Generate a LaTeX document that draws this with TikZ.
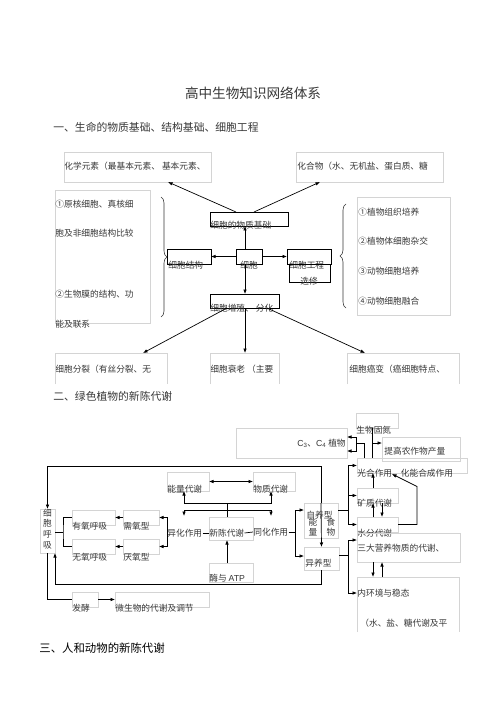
\documentclass[tikz,border=0pt]{standalone}
\usepackage{fontspec}
\newfontfamily\cjk{Noto Sans CJK SC}
\newfontfamily\lat{Liberation Sans}
\usetikzlibrary{arrows.meta}
\usetikzlibrary{calc}
\usetikzlibrary{decorations.pathreplacing}
\definecolor{boxgray}{HTML}{D4D4D4}
\definecolor{inkgray}{HTML}{383838}
\tikzset{>={Latex[length=4.5pt,width=3.6pt]}}
\tikzset{sz/.style 2 args={minimum width=#1pt, minimum height=#2pt}}
\tikzset{gbox/.style={draw=boxgray, line width=0.6pt, inner sep=0pt, outer sep=0pt, anchor=north west}}
\tikzset{kbox/.style={draw=black, line width=0.8pt, inner sep=0pt, outer sep=0pt, anchor=north west}}
\tikzset{txt/.style={inner sep=0pt, anchor=west, text=inkgray, font=\cjk\fontsize{8.7}{10.7}\selectfont}}
\tikzset{head/.style={txt, font=\cjk\fontsize{10.8}{12}\selectfont}}
\tikzset{vtxt/.style={txt, anchor=center, align=center}}

\begin{document}
\begin{tikzpicture}[x=1pt, y=-1pt, line width=0.7pt]
\path[use as bounding box, fill=white] (0,0) rectangle (500,708);

% headings
\node[head, anchor=center, font=\cjk\fontsize{13.6}{14}\selectfont] (title) at (253,93) {高中生物知识网络体系};
\node[head] (h1) at (53,127) {一、生命的物质基础、结构基础、细胞工程};
\node[head] (h2) at (53,396) {二、绿色植物的新陈代谢};
\node[head, text=black, font=\cjk\fontsize{11.4}{12}\selectfont] (h3) at (39,648) {三、人和动物的新陈代谢};

% part one: boxes
\node[gbox, sz={147}{30}] (ys) at (64,152) {};
\node[txt] (ysT) at (64,166) {化学元素（最基本元素、 基本元素、};
\node[gbox, sz={147}{30}] (hhw) at (296,152) {};
\node[txt] (hhwT) at (297,166) {化合物（水、无机盐、蛋白质、糖};
\node[gbox, sz={95}{133}] (jgb) at (55,190) {};
\node[txt] (jg1) at (55,204) {①原核细胞、真核细};
\node[txt] (jg2) at (55,233) {胞及非细胞结构比较};
\node[txt] (jg3) at (55,294) {②生物膜的结构、功};
\node[txt] (jg4) at (55,324) {能及联系};
\node[gbox, sz={93}{118}] (gcb) at (357,197) {};
\node[txt] (gc1) at (358,212) {①植物组织培养};
\node[txt] (gc2) at (358,241) {②植物体细胞杂交};
\node[txt] (gc3) at (358,271) {③动物细胞培养};
\node[txt] (gc4) at (358,301) {④动物细胞融合};

\node[kbox, sz={78}{14}] (wz) at (210,212) {};
\node[txt] (wzT) at (210,225) {细胞的物质基础};
\node[kbox, sz={44}{15}] (jg) at (167,249) {};
\node[txt] (jgT) at (168,265) {细胞结构};
\node[kbox, sz={26}{15}] (xb) at (236,249) {};
\node[txt] (xbT) at (240,265) {细胞};
\node[kbox, sz={44}{15}] (gc) at (287,249) {};
\node[txt] (gcT) at (289,265) {细胞工程};
\node[kbox, sz={41}{18}] (xx) at (289,264) {};
\node[txt] (xxT) at (300,281) {选修};
\node[kbox, sz={69}{14}] (zz) at (210,294) {};
\node[txt] (zzT) at (210,308) {细胞增殖、 分化};

\node[gbox, draw=none, sz={112}{31}] (fl) at (55,353) {};
\node[txt] (flT) at (55,369) {细胞分裂（有丝分裂、无};
\node[gbox, draw=none, sz={69}{31}] (sl) at (210,353) {};
\node[txt] (slT) at (210,369) {细胞衰老 （主要};
\node[gbox, draw=none, sz={112}{31}] (ab) at (347,353) {};
\node[txt] (abT) at (349,369) {细胞癌变（癌细胞特点、};

% braces
\draw[inkgray, line width=0.6pt, decorate, decoration={brace, amplitude=6pt}] (161,197) -- (161,317);
\draw[inkgray, line width=0.6pt, decorate, decoration={brace, amplitude=6pt}] (346,308) -- (346,204);

% part one: arrows
\coordinate (xbn) at ($(xb.north)+(-4,0)$);
\coordinate (xbs) at ($(xb.south)+(-4,0)$);
\draw[->] (xbn) -- (xbn |- wz.south);
\draw[->] (xbs) -- (xbs |- zz.north);
\draw[->] (xb.west) -- (jg.east);
\draw[->] (xb.east) -- (gc.west);
\draw[->] ($(wz.north west)+(26,0)$) -- ($(ys.south west)+(104,0)$);
\draw[->] ($(wz.north west)+(44,0)$) -- ($(hhw.south west)+(24,0)$);
\draw[->] ($(zz.south west)+(17,0)$) -- ($(fl.north west)+(88,0)$);
\draw[->] (xbs |- zz.south) -- (xbs |- sl.north);
\draw[->] ($(zz.south west)+(57,0)$) -- ($(ab.north west)+(18,0)$);

% part two: boxes
\node[gbox, sz={42}{15}] (gd) at (356,413) {};
\node[txt] (gdT) at (356,430) {生物固氮};
\node[gbox, sz={111}{30}] (c34) at (236,428) {};
\node[txt, anchor=east] (c34T) at (346,443) {{\lat C\textsubscript{3}}、{\lat C\textsubscript{4}} 植物};
\node[gbox, sz={78}{24}] (tg) at (382,437) {};
\node[txt] (tgT) at (384,451) {提高农作物产量};
\node[gbox, sz={110}{15}] (gh) at (357,458) {};
\node[txt] (ghT) at (357,473) {光合作用、化能合成作用};
\node[gbox, sz={41}{15}] (kz) at (357,488) {};
\node[txt] (kzT) at (357,503) {矿质代谢};
\node[gbox, sz={41}{15}] (sf) at (357,517) {};
\node[txt] (sfT) at (357,533) {水分代谢};
\node[gbox, sz={103}{29}] (sd) at (357,533) {};
\node[txt] (sdT) at (357,548) {三大营养物质的代谢、};
\node[gbox, draw=none, sz={102}{55}] (nh) at (357,577) {};
\node[txt] (nhT) at (357,593) {内环境与稳态};
\node[txt] (nhU) at (360,623) {（水、盐、糖代谢及平};

\foreach \b in {fl,sl,ab,nh}
  \draw[boxgray, line width=0.6pt] (\b.south west) |- (\b.north east) -- (\b.south east);

\node[gbox, sz={34}{35}] (zy) at (304,503) {};
\node[txt] (zyT) at (306,515) {自养型};
\node[vtxt, font=\cjk\fontsize{8.7}{9.6}\selectfont] (nlZ) at (313,527) {能\\量};
\node[vtxt, font=\cjk\fontsize{8.7}{9.6}\selectfont] (swZ) at (331,527) {食\\物};
\node[gbox, sz={35}{23}] (yy) at (304,547) {};
\node[txt] (yyT) at (305,563) {异养型};

\node[gbox, sz={44}{23}] (xc) at (209,517) {};
\node[txt] (xcT) at (209,533) {新陈代谢};
\node[txt] (yh) at (167,533) {异化作用};
\node[txt] (th) at (253,532) {同化作用};
\node[gbox, sz={42}{19}] (nl) at (167,472) {};
\node[txt] (nlT) at (167,489) {能量代谢};
\node[gbox, sz={42}{19}] (wd) at (253,472) {};
\node[txt] (wdT) at (253,489) {物质代谢};
\node[gbox, sz={44}{19}] (ma) at (209,563) {};
\node[txt] (maT) at (209,578) {酶与 {\lat ATP}};

\node[gbox, sz={36}{15}] (xy) at (123,510) {};
\node[txt] (xyT) at (123,526) {需氧型};
\node[gbox, sz={36}{15}] (yx) at (123,539) {};
\node[txt] (yxT) at (123,557) {厌氧型};
\node[gbox, sz={43}{15}] (yo) at (72,510) {};
\node[txt] (yoT) at (72,526) {有氧呼吸};
\node[gbox, sz={43}{15}] (wo) at (72,539) {};
\node[txt] (woT) at (72,557) {无氧呼吸};
\node[gbox, sz={15}{44}] (hx) at (40,509) {};
\node[vtxt] (hxT) at (47.5,529) {细\\胞\\呼\\吸};
\node[gbox, sz={26}{15}] (fj) at (72,592) {};
\node[txt] (fjT) at (72,608) {发酵};
\node[gbox, sz={94}{15}] (ws) at (115,592) {};
\node[txt] (wsT) at (115,608) {微生物的代谢及调节};

% part two: left loop
\draw[->] (zy.north) -- (yy.north);
\draw[->] (zy.north) -- ++(0,-37) -| (hx.north);
\draw[->] (yy.south) -- ++(0,14) -| (hx.south east);
\draw (hx.south) |- (fj.west);
\draw[->] (fj.east) -- (ws.west);
\coordinate (kh) at (63,532);
\draw (hx.east |- kh) -- (kh);
\draw (yo.west) -| (kh) |- (wo.west);
\draw[->] (xy.west) -- (yo.east);
\draw[->] (yx.west) -- (wo.east);
\draw[->] (yh.west) |- (xy.east);
\draw[->] (yh.west) |- (yx.east);
\draw (yh.east) -- (xcT.west);
\draw (xcT.east) -- (th.west);
\coordinate (tj) at (295,532);
\draw (th.east) -- (tj);
\draw[->] (tj) |- ($(zy.north west)+(0,7)$);
\draw[->] (tj) |- ($(yy.north west)+(0,9)$);

% metabolism splits
\coordinate (fa) at (227,503);
\coordinate (fb) at (227,510);
\coordinate (ya) at (184,516);
\coordinate (ta) at (271,516);
\draw (xc.north -| fa) -- (fa);
\draw[->] (fa) -| ($(nl.south)+(-4,0)$);
\draw[->] (fa) -| ($(wd.south)+(-3,0)$);
\draw[<->] (nl.east) -- (wd.west);
\draw[->] (fb) -| (ya);
\draw[->] (fb) -| (ta);
\draw[->] (ma.north -| fa) -- (xc.south -| fa);

% right column
\coordinate (ra) at (348,510);
\coordinate (rc) at (348,555);
\draw (zy.east |- ra) -- (ra);
\draw[->] (ra) |- (gh.west);
\draw[->] (ra) |- (kz.west);
\draw[->] (ra) |- (sf.west);
\draw (yy.east |- rc) -- (rc);
\draw[->] (rc) |- ($(sd.north west)+(0,7)$);
\draw[->] (rc) |- ($(nh.north west)+(0,16)$);
\draw[->] ($(kz.north west)+(16,0)$) -- ($(gh.south west)+(16,0)$);
\draw[->] ($(sf.north west)+(16,0)$) -- ($(kz.south west)+(16,0)$);
\draw[->] ($(kz.south west)+(25,0)$) -- ($(sf.north west)+(25,0)$);
\draw[->] ($(sd.south west)+(16,0)$) -- ($(nh.north west)+(16,0)$);
\draw[->] ($(nh.north west)+(25,0)$) -- ($(sd.south west)+(25,0)$);
\draw[->] (sf.east) -- ++(19,0) -- ++(0,-38) -- ($(gh.south west)+(35,1)$);

% nitrogen fixation and C3/C4
\coordinate (gx) at ($(gd.south west)+(16,15)$);
\coordinate (ca) at (356,443);
\draw ($(gd.south west)+(16,0)$) -- ($(gh.north west)+(15,0)$);
\draw[->] (gx) -- (gx -| tg.west);
\draw ($(gh.north west)+(7,0)$) |- (ca);
\draw[->] (ca) -- ++(0,-6) -- ($(c34.east)+(0,-6)$);
\draw[->] (ca) -- ++(0,8) -- ($(c34.east)+(0,8)$);
\end{tikzpicture}
\end{document}
